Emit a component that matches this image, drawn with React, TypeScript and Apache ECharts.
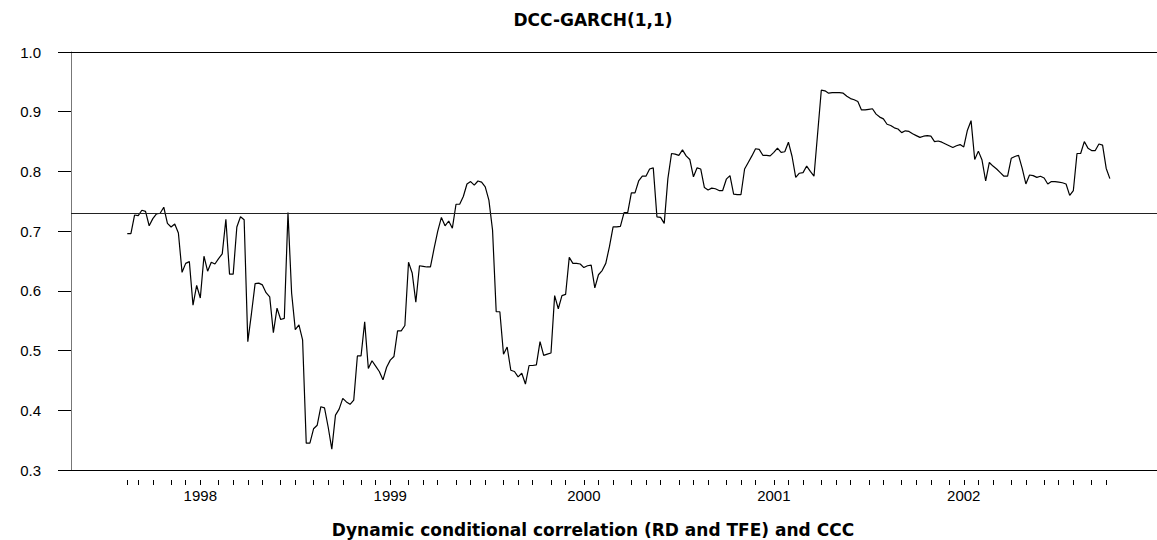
import React, { useEffect, useRef } from "react";
import * as echarts from "echarts";

// Weekly observations, first one on 1997-08-15
const startDate = Date.UTC(1997, 7, 15);
const weekMs = 7 * 86400000;

// Dynamic conditional correlation (RD and TFE), one value per week
const dccValues = [
  0.696, 0.696, 0.727, 0.726, 0.735, 0.733, 0.709, 0.721, 0.729, 0.730,
  0.740, 0.713, 0.707, 0.712, 0.697, 0.631, 0.646, 0.649, 0.576, 0.609,
  0.588, 0.658, 0.633, 0.648, 0.645, 0.654, 0.662, 0.720, 0.628, 0.628,
  0.707, 0.724, 0.719, 0.515, 0.562, 0.612, 0.613, 0.610, 0.597, 0.590,
  0.530, 0.571, 0.552, 0.554, 0.731, 0.596, 0.535, 0.543, 0.518, 0.345,
  0.345, 0.369, 0.375, 0.406, 0.404, 0.372, 0.335, 0.392, 0.402, 0.420,
  0.414, 0.410, 0.417, 0.491, 0.491, 0.548, 0.470, 0.483, 0.474, 0.465,
  0.451, 0.472, 0.484, 0.490, 0.533, 0.533, 0.542, 0.648, 0.630, 0.581,
  0.642, 0.641, 0.640, 0.640, 0.671, 0.700, 0.723, 0.709, 0.717, 0.705,
  0.745, 0.745, 0.758, 0.779, 0.783, 0.777, 0.784, 0.782, 0.774, 0.752,
  0.702, 0.565, 0.565, 0.494, 0.506, 0.467, 0.465, 0.456, 0.462, 0.444,
  0.475, 0.475, 0.476, 0.515, 0.492, 0.494, 0.496, 0.592, 0.570, 0.592,
  0.594, 0.656, 0.646, 0.646, 0.645, 0.639, 0.642, 0.643, 0.605, 0.627,
  0.634, 0.646, 0.674, 0.707, 0.707, 0.708, 0.731, 0.731, 0.764, 0.764,
  0.784, 0.792, 0.792, 0.804, 0.806, 0.724, 0.723, 0.713, 0.788, 0.830,
  0.829, 0.827, 0.836, 0.826, 0.820, 0.791, 0.806, 0.804, 0.773, 0.769,
  0.772, 0.771, 0.768, 0.768, 0.787, 0.793, 0.762, 0.761, 0.761, 0.804,
  0.815, 0.826, 0.838, 0.837, 0.827, 0.827, 0.826, 0.832, 0.839, 0.832,
  0.833, 0.849, 0.825, 0.790, 0.797, 0.798, 0.809, 0.800, 0.792, 0.864,
  0.936, 0.935, 0.931, 0.932, 0.932, 0.932, 0.931, 0.926, 0.922, 0.920,
  0.917, 0.903, 0.903, 0.904, 0.905, 0.896, 0.891, 0.888, 0.879, 0.877,
  0.873, 0.871, 0.865, 0.868, 0.867, 0.863, 0.860, 0.857, 0.859, 0.860,
  0.859, 0.850, 0.851, 0.849, 0.846, 0.843, 0.840, 0.843, 0.845, 0.841,
  0.869, 0.885, 0.820, 0.834, 0.819, 0.784, 0.815, 0.809, 0.804, 0.798,
  0.792, 0.792, 0.822, 0.825, 0.827, 0.805, 0.779, 0.794, 0.793, 0.790,
  0.792, 0.789, 0.779, 0.783, 0.783, 0.782, 0.781, 0.779, 0.760, 0.768,
  0.830, 0.830, 0.850, 0.839, 0.835, 0.835, 0.846, 0.844, 0.805, 0.788,
];

// Constant conditional correlation
const cccValue = 0.73;

// Year tick labels
const yearLabels = ["1998", "1999", "2000", "2001", "2002"];

const FONT = "'Liberation Sans', Arial, sans-serif";
const WIDE = "'DejaVu Sans', 'Liberation Sans', sans-serif";

export default function App() {
  const ref = useRef<HTMLDivElement>(null);

  useEffect(() => {
    if (!ref.current) return;
    const chart = echarts.init(ref.current, null, { renderer: "svg" });

    const dates = dccValues.map((_, i) => new Date(startDate + i * weekMs));
    const monthTicks: number[] = [];
    const yearIdx: Record<number, string> = {};
    dates.forEach((d, i) => {
      const prev = i > 0 ? dates[i - 1] : null;
      if (!prev || prev.getUTCMonth() !== d.getUTCMonth()) monthTicks.push(i);
      if (prev && prev.getUTCFullYear() !== d.getUTCFullYear()) {
        const y = String(d.getUTCFullYear());
        if (yearLabels.includes(y)) yearIdx[i] = y;
      }
    });
    const yearTicks = Object.keys(yearIdx).map(Number);

    const xMin = -15.4;
    const xMax = 281.9;

    chart.setOption({
      animation: false,
      backgroundColor: "#fff",
      title: [
        {
          text: "DCC-GARCH(1,1)",
          left: 588,
          textAlign: "center",
          top: 6,
          textStyle: { fontFamily: WIDE, fontSize: 17, fontWeight: "bold", color: "#000" },
        },
        {
          text: "Dynamic conditional correlation (RD and TFE) and CCC",
          left: 588,
          textAlign: "center",
          top: 516,
          textStyle: { fontFamily: WIDE, fontSize: 17, fontWeight: "bold", color: "#000" },
        },
      ],
      grid: { left: 71, right: 0, top: 52, bottom: 70 },
      xAxis: [
        {
          type: "value",
          min: xMin,
          max: xMax,
          position: "bottom",
          axisLine: { show: true, onZero: false, lineStyle: { color: "#000", width: 1 } },
          axisTick: { show: false },
          axisLabel: { show: false },
          splitLine: { show: false },
        },
        {
          type: "value",
          min: xMin,
          max: xMax,
          position: "bottom",
          offset: 10,
          axisLine: { show: false, onZero: false },
          axisTick: {
            show: true,
            length: 5,
            customValues: monthTicks,
            lineStyle: { color: "#000", width: 1 },
          },
          axisLabel: {
            show: true,
            customValues: yearTicks,
            formatter: (v: number) => yearIdx[Math.round(v)] ?? "",
            margin: 8,
            fontSize: 15,
            fontFamily: FONT,
            color: "#000",
          },
          splitLine: { show: false },
        },
        {
          type: "value",
          min: xMin,
          max: xMax,
          position: "top",
          axisLine: { show: true, onZero: false, lineStyle: { color: "#000", width: 1 } },
          axisTick: { show: false },
          axisLabel: { show: false },
          splitLine: { show: false },
        },
      ],
      yAxis: {
        type: "value",
        min: 0.3,
        max: 1.0,
        interval: 0.1,
        axisLine: { show: true, onZero: false, lineStyle: { color: "#777", width: 1 } },
        axisTick: { show: true, length: 13, lineStyle: { color: "#000", width: 1 } },
        axisLabel: {
          formatter: (v: number) => v.toFixed(1),
          margin: 30,
          fontSize: 15,
          fontFamily: FONT,
          color: "#000",
        },
        splitLine: { show: false },
      },
      series: [
        {
          type: "line",
          xAxisIndex: 0,
          data: dccValues.map((v, i) => [i, v]),
          showSymbol: false,
          symbol: "none",
          lineStyle: { color: "#000", width: 1.2 },
          markLine: {
            silent: true,
            symbol: "none",
            label: { show: false },
            lineStyle: { color: "#222", type: "solid", width: 1 },
            data: [{ yAxis: cccValue }],
          },
        },
      ],
    });

    return () => chart.dispose();
  }, []);

  return (
    <div
      ref={ref}
      style={{ position: "absolute", left: 0, top: 0, width: 1157, height: 540 }}
    />
  );
}
